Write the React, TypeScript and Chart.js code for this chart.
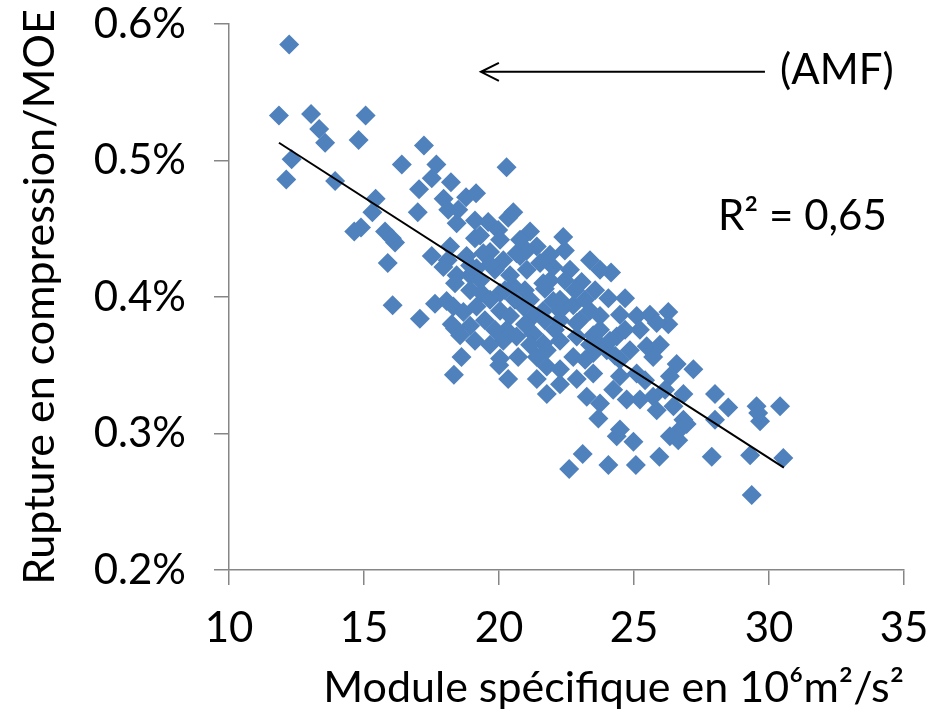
import React, { useEffect, useRef } from 'react';
import { Chart, registerables } from 'chart.js';

Chart.register(...registerables);

// Module spécifique (10^6 m²/s²)
const MODULE_SPECIFIQUE: number[] = [
  12.23, 11.85, 13.04, 13.34, 13.56, 15.06, 14.80, 12.32, 12.12, 13.93,
  17.22, 16.40, 17.68, 17.51, 17.04, 18.22, 15.43, 15.31, 16.99, 17.95,
  18.12, 14.64, 14.89, 15.78, 16.03, 16.15, 15.88, 17.51, 18.10, 16.06,
  17.07, 17.63, 18.06, 18.25, 20.28, 18.78, 19.15, 18.49, 18.43, 19.11,
  19.60, 20.53, 20.34, 19.11, 19.97, 20.04, 18.19, 21.40, 21.03, 20.65,
  19.67, 18.80, 19.42, 17.94, 18.43, 18.37, 18.93, 19.17, 19.85, 20.16,
  20.78, 21.03, 21.52, 21.64, 18.93, 19.36, 19.67, 20.04, 20.53, 18.31,
  18.68, 19.17, 18.37, 20.04, 20.41, 20.90, 21.27, 21.64, 20.28, 20.16,
  20.65, 21.27, 21.64, 18.61, 20.04, 20.71, 21.40, 18.33, 20.01, 20.34,
  21.40, 21.77, 21.77, 22.38, 22.01, 22.63, 23.06, 22.44, 24.15, 21.70,
  22.01, 22.75, 23.37, 24.05, 24.67, 24.48, 25.10, 25.59, 26.27, 26.27,
  25.84, 25.22, 23.74, 23.74, 22.88, 22.26, 24.36, 21.77, 22.26, 22.88,
  23.49, 22.75, 23.49, 23.99, 24.48, 25.71, 25.47, 26.58, 26.33, 22.26,
  22.88, 23.49, 24.23, 23.25, 23.74, 24.73, 25.71, 25.84, 26.46, 26.83,
  23.68, 24.48, 26.70, 26.33, 25.10, 24.48, 23.10, 22.60, 24.05, 25.07,
  25.94, 26.64, 24.36, 24.98, 27.20, 26.83, 28.00, 28.49, 29.54, 30.41,
  29.67, 29.60, 28.00, 26.95, 27.88, 29.30, 30.53, 29.36,
  19.30, 20.41, 20.96, 20.59, 21.15, 21.70, 19.48, 19.85, 20.96, 22.07,
  22.26, 22.81, 23.19, 23.56, 23.74, 23.19, 21.15, 22.26, 24.85, 25.96,
  25.41, 26.15, 25.22, 21.15, 19.67, 20.22, 18.93,
  18.93, 19.11, 19.67, 18.56, 21.89, 22.26, 23.00, 23.37, 24.11, 24.67,
  24.30, 22.44, 21.89, 23.37, 23.74, 20.78, 19.30,
];

// Rupture en compression / MOE (%)
const RUPTURE_MOE: number[] = [
  0.585, 0.533, 0.534, 0.523, 0.513, 0.533, 0.515, 0.501, 0.486, 0.485,
  0.511, 0.497, 0.497, 0.487, 0.479, 0.484, 0.472, 0.462, 0.462, 0.472,
  0.464, 0.448, 0.451, 0.448, 0.443, 0.440, 0.425, 0.430, 0.427, 0.394,
  0.384, 0.395, 0.397, 0.380, 0.495, 0.473, 0.476, 0.464, 0.454, 0.456,
  0.455, 0.462, 0.458, 0.443, 0.449, 0.442, 0.437, 0.437, 0.434, 0.432,
  0.433, 0.430, 0.432, 0.422, 0.416, 0.410, 0.416, 0.421, 0.420, 0.427,
  0.430, 0.420, 0.425, 0.410, 0.405, 0.403, 0.398, 0.403, 0.408, 0.393,
  0.389, 0.393, 0.377, 0.390, 0.386, 0.393, 0.386, 0.390, 0.376, 0.368,
  0.371, 0.373, 0.366, 0.356, 0.355, 0.356, 0.356, 0.343, 0.350, 0.340,
  0.340, 0.349, 0.329, 0.444, 0.422, 0.420, 0.411, 0.412, 0.418, 0.406,
  0.397, 0.394, 0.390, 0.399, 0.399, 0.387, 0.386, 0.387, 0.389, 0.380,
  0.381, 0.376, 0.386, 0.376, 0.381, 0.383, 0.371, 0.361, 0.368, 0.371,
  0.372, 0.356, 0.359, 0.361, 0.354, 0.356, 0.364, 0.351, 0.342, 0.347,
  0.340, 0.344, 0.332, 0.327, 0.322, 0.325, 0.327, 0.317, 0.320, 0.310,
  0.311, 0.303, 0.303, 0.298, 0.344, 0.342, 0.285, 0.274, 0.277, 0.277,
  0.283, 0.295, 0.298, 0.294, 0.347, 0.329, 0.329, 0.319, 0.320, 0.320,
  0.309, 0.315, 0.310, 0.307, 0.283, 0.284, 0.282, 0.255,
  0.412, 0.416, 0.405, 0.398, 0.398, 0.383, 0.383, 0.376, 0.380, 0.376,
  0.390, 0.405, 0.398, 0.405, 0.365, 0.354, 0.365, 0.336, 0.361, 0.365,
  0.339, 0.332, 0.325, 0.448, 0.424, 0.405, 0.379,
  0.423, 0.368, 0.365, 0.372, 0.412, 0.398, 0.383, 0.365, 0.368, 0.376,
  0.357, 0.434, 0.431, 0.427, 0.420, 0.442, 0.445,
];

// Linear trend line end points
const TREND_X: number[] = [11.85, 30.55];
const TREND_Y: number[] = [0.513, 0.275];

// Axis ranges / ticks
const X_RANGE = { min: 10, max: 35, step: 5 };
const Y_RANGE = { min: 0.2, max: 0.6, step: 0.1 };

// Annotations (data coordinates)
const ARROW = { fromX: 29.85, toX: 19.33, y: 0.565 };
const LABEL_AMF = { text: '(AMF)', x: 30.41, y: 0.566 };
const LABEL_R2 = { text: 'R² = 0,65', x: 28.11, y: 0.459 };

const X_TITLE = 'Module spécifique en 10⁶m²/s²';
const Y_TITLE = 'Rupture en compression/MOE';

const FONT = 'Lato';
const AXIS_GRAY = '#868686';
const MARKER = '#4F81BD';

export default function App() {
  const ref = useRef<HTMLCanvasElement | null>(null);

  useEffect(() => {
    const canvas = ref.current;
    if (!canvas) return;

    const annotations = {
      id: 'annotations',
      afterDatasetsDraw(chart: any) {
        const ctx = chart.ctx;
        const xs = chart.scales.x;
        const ys = chart.scales.y;
        ctx.save();
        const x1 = xs.getPixelForValue(ARROW.fromX);
        const x2 = xs.getPixelForValue(ARROW.toX);
        const y = ys.getPixelForValue(ARROW.y);
        ctx.strokeStyle = '#000';
        ctx.lineWidth = 2;
        ctx.beginPath();
        ctx.moveTo(x1, y);
        ctx.lineTo(x2, y);
        ctx.moveTo(x2 + 18, y - 9);
        ctx.lineTo(x2, y);
        ctx.lineTo(x2 + 18, y + 9);
        ctx.stroke();
        ctx.fillStyle = '#000';
        ctx.font = `42px ${FONT}`;
        ctx.textAlign = 'left';
        ctx.textBaseline = 'middle';
        ctx.fillText(LABEL_AMF.text, xs.getPixelForValue(LABEL_AMF.x), ys.getPixelForValue(LABEL_AMF.y));
        ctx.fillText(LABEL_R2.text, xs.getPixelForValue(LABEL_R2.x), ys.getPixelForValue(LABEL_R2.y));
        ctx.restore();
      },
    };

    const chart = new Chart(canvas, {
      type: 'scatter',
      data: {
        datasets: [
          {
            type: 'line',
            label: 'Tendance',
            data: TREND_X.map((x, i) => ({ x, y: TREND_Y[i] })),
            borderColor: '#000',
            borderWidth: 2,
            pointRadius: 0,
            fill: false,
            order: 0,
          } as any,
          {
            label: 'AMF',
            data: MODULE_SPECIFIQUE.map((x, i) => ({ x, y: RUPTURE_MOE[i] })),
            pointStyle: 'rectRot',
            pointRadius: 10,
            backgroundColor: MARKER,
            borderColor: MARKER,
            borderWidth: 0,
            order: 1,
          },
        ],
      },
      options: {
        animation: false,
        responsive: false,
        devicePixelRatio: 1,
        layout: { padding: { top: 24, right: 30, left: 0, bottom: 0 } },
        plugins: {
          legend: { display: false },
          tooltip: { enabled: false },
        },
        scales: {
          x: {
            type: 'linear',
            min: X_RANGE.min,
            max: X_RANGE.max,
            ticks: {
              stepSize: X_RANGE.step,
              color: '#000',
              font: { family: FONT, size: 42 },
              padding: 18,
            },
            grid: {
              drawOnChartArea: false,
              drawTicks: true,
              tickLength: 15,
              color: AXIS_GRAY,
              lineWidth: 1.5,
            },
            border: { color: AXIS_GRAY, width: 1.5 },
            title: {
              display: true,
              text: X_TITLE,
              align: 'end',
              color: '#000',
              font: { family: FONT, size: 43, lineHeight: 1.2 },
              padding: { top: 0, bottom: 11 },
            },
            afterFit(scale: any) {
              scale.height = 155;
              scale.paddingLeft = 0;
              scale.paddingRight = 0;
            },
          },
          y: {
            type: 'linear',
            min: Y_RANGE.min,
            max: Y_RANGE.max,
            ticks: {
              stepSize: Y_RANGE.step,
              color: '#000',
              font: { family: FONT, size: 42 },
              padding: 28,
              callback: (v: any) => `${Number(v).toFixed(1)}%`,
            },
            grid: {
              drawOnChartArea: false,
              drawTicks: true,
              tickLength: 15,
              color: AXIS_GRAY,
              lineWidth: 1.5,
            },
            border: { color: AXIS_GRAY, width: 1.5 },
            title: {
              display: true,
              text: Y_TITLE,
              color: '#000',
              font: { family: FONT, size: 43, lineHeight: 1.2 },
              padding: { top: 14, bottom: 0 },
            },
            afterFit(scale: any) {
              scale.width = 229;
              scale.paddingTop = 0;
              scale.paddingBottom = 0;
            },
          },
        },
      },
      plugins: [annotations],
    });

    return () => chart.destroy();
  }, []);

  return (
    <div style={{ position: 'fixed', left: 0, top: 0, width: 934, height: 725, background: '#fff' }}>
      <canvas ref={ref} width={934} height={725} style={{ display: 'block' }} />
    </div>
  );
}
